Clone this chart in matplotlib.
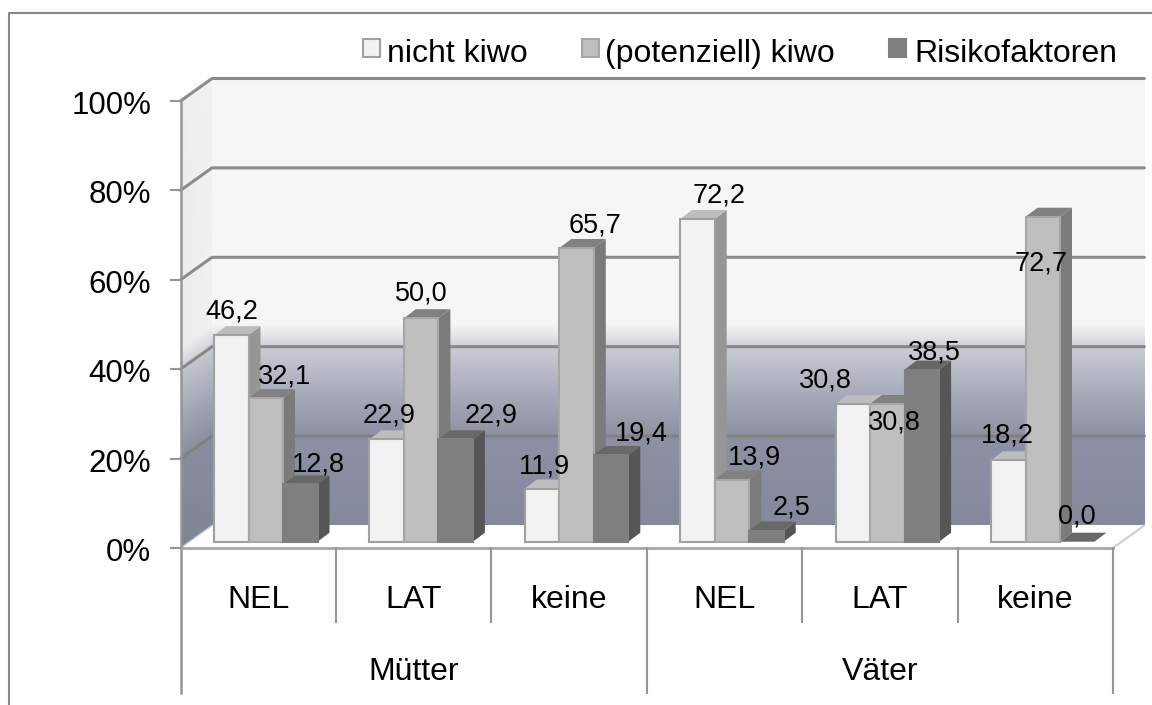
import matplotlib
matplotlib.use('Agg')
import matplotlib.pyplot as plt
from matplotlib.patches import Polygon, Rectangle
import numpy as np

plt.rcParams['font.family'] = ['Liberation Sans', 'DejaVu Sans']

groups = ['NEL', 'LAT', 'keine', 'NEL', 'LAT', 'keine']
parents = ['Mütter', 'Väter']
series_names = ['nicht kiwo', '(potenziell) kiwo', 'Risikofaktoren']
nicht_kiwo = [46.2, 22.9, 11.9, 72.2, 30.8, 18.2]
pot_kiwo = [32.1, 50.0, 65.7, 13.9, 30.8, 72.7]
risiko = [12.8, 22.9, 19.4, 2.5, 38.5, 0.0]
y_ticks = [0, 20, 40, 60, 80, 100]

# label offsets from the bar top, in pixels
offsets_0 = [(1, 24), (2, 24), (2, 22), (22, 23), (-28, 24), (-1, 25)]
offsets_1 = [(19, 22), (0, 25), (19, 23), (22, 22), (7, -18), (-2, -47)]
offsets_2 = [(18, 20), (35, 24), (30, 21), (25, 23), (12, 17), (0, 25)]

# size of one category / one percent in pixels
XPX = 155.4
YPX = 4.47
X0 = 180.5
Y0 = 548.0
W, H = 1152, 705


def px(x, y):
    return (x - X0) / XPX, (Y0 - y) / YPX


fig = plt.figure(figsize=(W / 100, H / 100), dpi=100)
ax = fig.add_axes([0, 0, 1, 1])

# wall depth
wx = 31.5 / XPX
wy = 22.5 / YPX
n = len(groups)
grid_c = '#808080'
axis_c = '#969696'

# vertical colour stops of the wall (pixel row on the back wall, rgb)
stop_y = [78, 324, 338, 350, 400, 437, 526]
stop_r = [247, 246, 225, 200, 164, 141, 132]
stop_g = [247, 246, 226, 202, 167, 145, 137]
stop_b = [247, 246, 229, 212, 182, 163, 155]


def wall_rgb(rows):
    return np.dstack([np.interp(rows, stop_y, stop_r),
                      np.interp(rows, stop_y, stop_g),
                      np.interp(rows, stop_y, stop_b)]) / 255


# back wall
rows = np.arange(78, 527)[:, None]
back = ax.imshow(wall_rgb(rows), extent=[wx, n + wx, wy, 100 + wy], aspect='auto', zorder=1)

# side wall, the colour bands follow the slant
yy, xx = np.mgrid[78:550, 180:213]
side = wall_rgb(yy - (212 - xx) * 0.72) * (0.96 + 0.02 * (xx - 180) / 32)[..., None]
side_im = ax.imshow(side, extent=[0, wx, px(0, 550)[1], px(0, 78)[1]], aspect='auto', zorder=1)
side_poly = Polygon([(0, 0), (wx, wy), (wx, 100 + wy), (0, 100)], closed=True,
                    transform=ax.transData, fc='none', ec='none')
ax.add_patch(side_poly)
side_im.set_clip_path(side_poly)

# floor
ax.add_patch(Polygon([(0, 0), (wx, wy), (n + wx, wy), (n, 0)], fc='white', ec='none', zorder=2))
ax.plot([n, n + wx], [0, wy], color='#cfcfcf', lw=1.5, zorder=2)

# grid
for t in y_ticks[1:]:
    ax.plot([0, wx, n + wx], [t, t + wy, t + wy], color=grid_c, lw=2.2, alpha=0.9,
            solid_capstyle='round', zorder=3)
ax.plot([0, wx], [0, wy], color='#c8c8c8', lw=1, zorder=3)

# axes
ax.plot([0, 0], [100, px(0, 693)[1]], color=axis_c, lw=1.8, zorder=4)
ax.plot([0, n], [0, 0], color='#a6a6a6', lw=2, zorder=4)
for t in y_ticks:
    ax.plot([-10 / XPX, 0], [t, t], color=axis_c, lw=1.5, zorder=4)
    ax.text(*px(151, Y0 - t * YPX + 5), f'{t}%', ha='right', va='center', fontsize=22.5, color='black', zorder=30)

# category dividers
for i in range(1, n + 1):
    bottom = 693 if i % 3 == 0 else 622
    ax.plot([i, i], [0, px(0, bottom)[1]], color=axis_c, lw=1.5, zorder=4)

for i, g in enumerate(groups):
    ax.text(i + 0.5, px(0, 600)[1], g, ha='center', va='center', fontsize=23, color='black')
for i, p in enumerate(parents):
    ax.text(1.5 + 3 * i, px(0, 672)[1], p, ha='center', va='center', fontsize=23, color='black')

# bars
bar_w = 34.5 / XPX
bar_dx = 12 / XPX
bar_dy = 9 / YPX
base = 6.3 / YPX
start = 33.5 / XPX
values = [nicht_kiwo, pot_kiwo, risiko]
offsets = [offsets_0, offsets_1, offsets_2]
front_c = ['#f2f2f2', '#bfbfbf', '#7f7f7f']
edge_c = ['#a0a0a0', '#a6a6a6', '#7f7f7f']
top_c = ['#bdbdbd', '#808080', '#686868']
side_c = ['#969696', '#7b7b7b', '#565656']

z = 10
for g in range(n):
    for s in range(3):
        v = values[s][g]
        x = g + start + s * bar_w
        top = base + v
        ax.add_patch(Polygon([(x + bar_w, base), (x + bar_w + bar_dx, base + bar_dy),
                              (x + bar_w + bar_dx, top + bar_dy), (x + bar_w, top)],
                             fc=side_c[s], ec='none', zorder=z))
        ax.add_patch(Polygon([(x, top), (x + bar_dx, top + bar_dy),
                              (x + bar_w + bar_dx, top + bar_dy), (x + bar_w, top)],
                             fc=top_c[s], ec='none', zorder=z))
        if v > 0:
            ax.bar(x, v, bar_w, bottom=base, align='edge', color=front_c[s], edgecolor=edge_c[s],
                   linewidth=1.5, zorder=z + 0.5)
        z += 1
        ax.annotate(f'{v:.1f}'.replace('.', ','), (x + bar_w / 2, top), xytext=offsets[s][g],
                    textcoords='offset pixels', ha='center', va='center', fontsize=19.5,
                    color='black', zorder=30)

# legend
leg_x = [363, 582, 889]
leg_tx = [387, 605, 914]
for s in range(3):
    x0, y0 = px(leg_x[s], 57)
    ax.add_patch(Rectangle((x0, y0), 17 / XPX, 18 / YPX, fc=front_c[s], ec=edge_c[s], lw=1.5, zorder=5))
    ax.text(*px(leg_tx[s], 54), series_names[s], ha='left', va='center', fontsize=23, color='black')

# outer frame
ax.plot(*zip(px(9, H), px(9, 13), px(W, 13)), color='#888888', lw=1.5, zorder=6)

ax.set_xlim(-X0 / XPX, (W - X0) / XPX)
ax.set_ylim((Y0 - H) / YPX, Y0 / YPX)
ax.axis('off')
fig.savefig('out.png', dpi=100, facecolor='white')
